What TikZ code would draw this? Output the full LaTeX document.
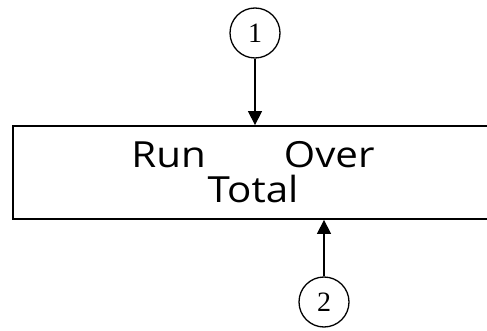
\documentclass[tikz,border=0pt]{standalone}
\usepackage{fontspec}
\setmainfont{Liberation Serif}
\newfontfamily\boxfont[FakeStretch=1.12]{Open Sans}
\usetikzlibrary{arrows.meta}
\tikzset{
  numcircle/.style={circle, draw, line width=1.3pt, minimum size=50pt, inner sep=0pt, font=\fontsize{28}{28}\selectfont},
  procbox/.style={rectangle, draw, line width=1.8pt, minimum width=480pt, minimum height=93pt, inner sep=0pt, align=center, font=\boxfont\fontsize{36}{35}\selectfont},
  flow/.style={line width=1.3pt, -{Triangle[width=14pt,length=14pt]}}
}
\begin{document}
\begin{tikzpicture}[x=1pt,y=-1pt]
\useasboundingbox (0,0) rectangle (487,331);
\begin{scope}
\clip (0,0) rectangle (487,331);
\node[procbox] (box) at (253,172.5) {Run\hspace{78pt}Over\\Total};
\end{scope}
\node[numcircle] (c1) at (255,33) {1};
\node[numcircle] (c2) at (324,302) {2};
\draw[flow] (c1) -- (c1 |- box.north);
\draw[flow] (c2) -- (c2 |- box.south);
\end{tikzpicture}
\end{document}
